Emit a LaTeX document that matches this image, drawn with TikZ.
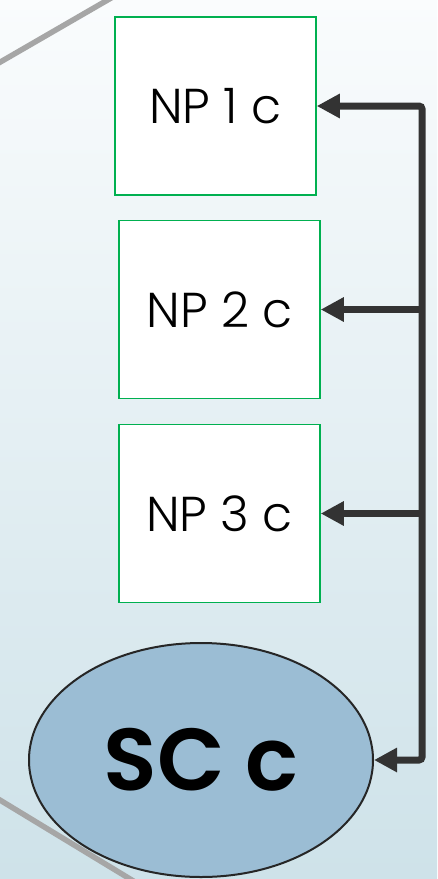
\documentclass[tikz,border=0pt]{standalone}
\usepackage{fontspec}
\setmainfont{Poppins}[UprightFont=* Light, BoldFont=* SemiBold]
\usetikzlibrary{arrows.meta,shapes.geometric}
\definecolor{bgtop}{HTML}{FAFCFD}
\definecolor{bgbot}{HTML}{CEE2E9}
\definecolor{boxgreen}{HTML}{00B050}
\definecolor{greyline}{HTML}{A6A6A6}
\definecolor{connc}{HTML}{333333}
\definecolor{ellfill}{HTML}{9BBDD4}
\tikzset{
  npbox/.style={draw=boxgreen, line width=1.5pt, fill=white, minimum width=201pt, minimum height=178pt, inner sep=0pt, font=\fontsize{49}{52}\selectfont},
  scell/.style={ellipse, draw=black!85, line width=2pt, fill=ellfill, minimum width=344pt, minimum height=234pt, inner sep=0pt, font=\fontsize{88}{92}\selectfont\bfseries},
  conn/.style={draw=connc, line width=7pt, rounded corners=3pt, -{Triangle[length=23pt,width=23pt]}},
  deco/.style={draw=greyline, line width=5.5pt}
}
\begin{document}
\begin{tikzpicture}[x=1pt,y=-1pt]
\useasboundingbox (0,0) rectangle (437,879);
\shade[top color=bgtop, bottom color=bgbot] (0,0) rectangle (437,879);
\draw[deco] (-10,68) -- (118,-6);
\draw[deco] (-10,794) -- (140,885);
\node[npbox] (np1) at (215.5,106) {NP 1 c};
\node[npbox] (np2) at (219.5,309.5) {NP 2 c};
\node[npbox] (np3) at (219.5,513.5) {NP 3 c};
\node[scell] (sc) at (201,760) {SC c};
\coordinate (top) at (422,106);
\coordinate (bot) at (422,760);
\draw[conn, {Triangle[length=23pt,width=23pt]}-{Triangle[length=23pt,width=23pt]}] (sc.east) -- (bot) -- (top) -- (np1.east);
\draw[conn] (np2.east -| top) -- (np2.east);
\draw[conn] (np3.east -| top) -- (np3.east);
\end{tikzpicture}
\end{document}
